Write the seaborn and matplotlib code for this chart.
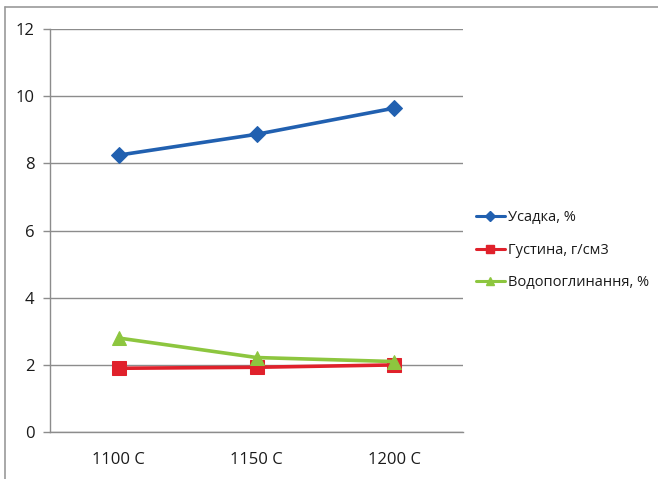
import matplotlib
matplotlib.use("Agg")
import matplotlib.pyplot as plt
from matplotlib.lines import Line2D
import seaborn as sns
import pandas as pd

# Firing temperatures and measured properties
temps = ["1100 C", "1150 C", "1200 C"]
shrinkage = [8.25, 8.87, 9.65]        # Усадка, %
density = [1.90, 1.93, 2.00]          # Густина, г/см3
absorption = [2.80, 2.22, 2.10]       # Водопоглинання, %

series_names = ["Усадка, %", "Густина, г/см3", "Водопоглинання, %"]
series_colors = ["#2160B0", "#E0212B", "#8DC63F"]
series_markers = ["D", "s", "^"]
marker_sizes = [8, 10, 10]

y_ticks = [0, 2, 4, 6, 8, 10, 12]

rows = []
for name, vals in zip(series_names, [shrinkage, density, absorption]):
    for i, v in enumerate(vals):
        rows.append({"temp": i, "value": v, "series": name})
df = pd.DataFrame(rows)

sns.set_style("white")
plt.rcParams["font.family"] = ["Open Sans", "DejaVu Sans"]
plt.rcParams["text.color"] = "#1A1A1A"

fig = plt.figure(figsize=(6.58, 4.79), dpi=100)
ax = fig.add_axes([0.076, 0.098, 0.628, 0.841])

for name, col, mk, ms in zip(series_names, series_colors, series_markers, marker_sizes):
    sub = df[df["series"] == name]
    sns.lineplot(data=sub, x="temp", y="value", ax=ax, color=col, marker=mk,
                 markersize=ms, markeredgecolor=col, linewidth=2.6, label=name,
                 legend=False)

ax.set_xlim(-0.5, 2.5)
ax.set_ylim(0, 12)
ax.set_yticks(y_ticks)
ax.set_yticklabels([str(t) for t in y_ticks], fontsize=12, color="#1A1A1A",
                   fontweight="medium")
ax.set_xticks([0, 1, 2])
ax.set_xticklabels(temps, fontsize=12, color="#1A1A1A", fontweight="medium")
ax.set_xticks([-0.5, 0.5, 1.5, 2.5], minor=True)
ax.tick_params(axis="x", which="major", length=0, pad=14)
ax.tick_params(axis="x", which="minor", length=5, color="#8C8C8C", width=1)
ax.tick_params(axis="y", length=5, color="#8C8C8C", width=1, pad=6, left=True)
ax.set_xlabel("")
ax.set_ylabel("")
ax.grid(axis="y", color="#8C8C8C", linewidth=1)
ax.set_axisbelow(True)
for s in ["top", "right"]:
    ax.spines[s].set_visible(False)
for s in ["left", "bottom"]:
    ax.spines[s].set_color("#8C8C8C")
    ax.spines[s].set_linewidth(1)

handles = [Line2D([0], [0], color=c, marker=m, markersize=ms * 0.6, linewidth=2.2,
                  markeredgecolor=c)
           for c, m, ms in zip(series_colors, series_markers, marker_sizes)]
fig.legend(handles, series_names, loc="upper left", bbox_to_anchor=(0.703, 0.588),
           frameon=False, handlelength=2.0, handletextpad=0.2,
           labelspacing=1.2, prop={"size": 10.5, "weight": "medium"})

# Outer chart frame
fig.add_artist(Line2D([5 / 658, 5 / 658], [0, 1 - 7 / 479], color="#9A9A9A",
                      linewidth=1.2, transform=fig.transFigure))
fig.add_artist(Line2D([5 / 658, 1], [1 - 7 / 479, 1 - 7 / 479], color="#9A9A9A",
                      linewidth=1.2, transform=fig.transFigure))

fig.savefig("out.png", dpi=100)
